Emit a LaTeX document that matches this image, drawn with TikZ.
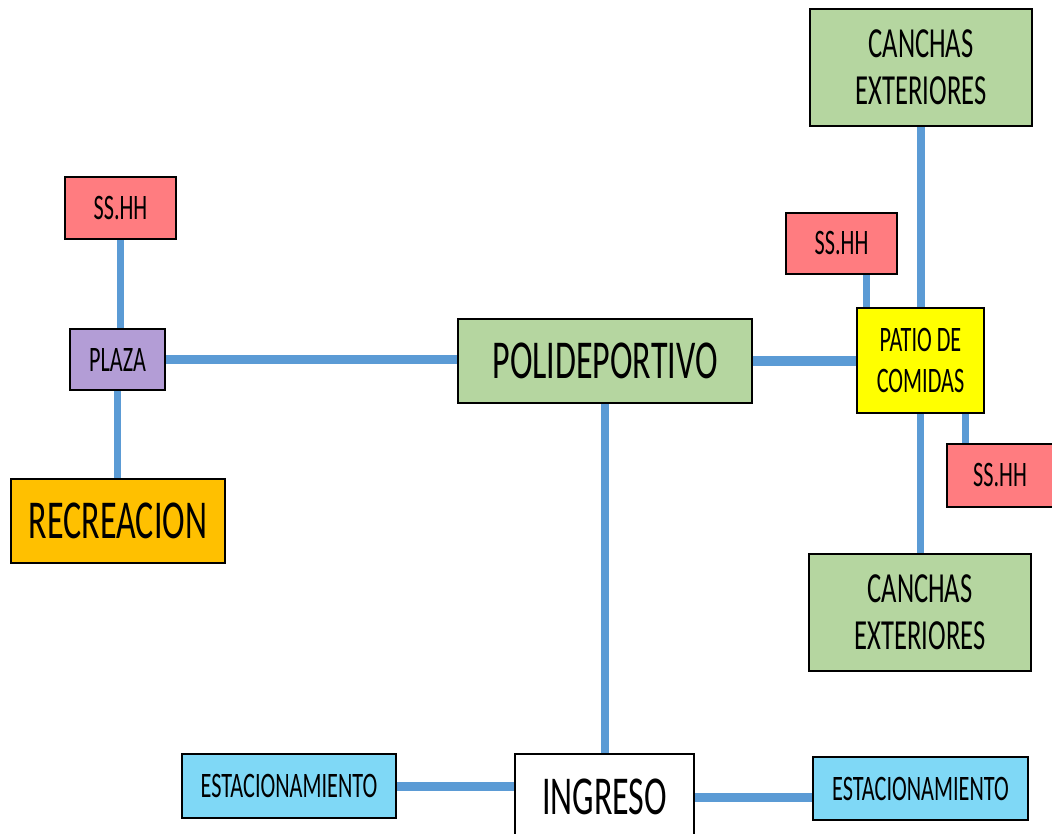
\documentclass[tikz,border=0pt]{standalone}
\usepackage{fontspec}
\setmainfont{Carlito}[FakeStretch=0.62]
\usepackage{tikz}
\usetikzlibrary{positioning,calc,backgrounds}
\definecolor{cGrnF}{HTML}{B5D6A0}
\definecolor{cRedF}{HTML}{FF7C80}
\definecolor{cPurF}{HTML}{B39DD6}
\definecolor{cOrgF}{HTML}{FFC000}
\definecolor{cYelF}{HTML}{FFFF00}
\definecolor{cCyaF}{HTML}{7FD8F6}
\definecolor{cLink}{HTML}{5B9BD5}

\begin{document}
\begin{tikzpicture}[x=0.025cm,y=-0.025cm,
  bx/.style={draw=black,line width=1.1pt,align=center,inner sep=2pt,text=black},
  sm/.style={font=\fontsize{25.5}{29}\selectfont},
  md/.style={font=\fontsize{30.5}{33.5}\selectfont},
  lg/.style={font=\fontsize{39}{44}\selectfont},
  lnk/.style={draw=cLink,line width=5pt},
  lnkb/.style={draw=cLink,line width=6.4pt},
  lnkw/.style={draw=cLink,line width=7pt}]

  \useasboundingbox (0,0) rectangle (1052,834);

  % left group
  \node[bx,sm,fill=cRedF,minimum width=2.775cm,minimum height=1.55cm] (shL) at (120.5,208) {SS.HH};
  \node[bx,sm,fill=cPurF,minimum width=2.375cm,minimum height=1.525cm] (plaza) at (117.5,359.5) {PLAZA};
  \node[bx,lg,fill=cOrgF,minimum width=5.35cm,minimum height=2.1cm] (rec) at (118,521) {RECREACION};

  % centre
  \node[bx,lg,fill=cGrnF,minimum width=7.35cm,minimum height=2.1cm] (poli) at (605,361) {POLIDEPORTIVO};

  % right group
  \node[bx,md,fill=cGrnF,minimum width=5.55cm,minimum height=2.925cm] (canN) at (921,67.5) {CANCHAS\\EXTERIORES};
  \node[bx,sm,fill=cRedF,minimum width=2.775cm,minimum height=1.525cm] (shN) at (841.5,243.5) {SS.HH};
  \node[bx,sm,fill=cYelF,minimum width=3.175cm,minimum height=2.625cm] (patio) at (920.5,360.5) {PATIO DE\\COMIDAS};
  \node[bx,sm,fill=cRedF,minimum width=2.65cm,minimum height=1.575cm] (shS) at (1000,475.5) {SS.HH};
  \node[bx,md,fill=cGrnF,minimum width=5.55cm,minimum height=2.925cm] (canS) at (920,612.5) {CANCHAS\\EXTERIORES};

  % bottom row
  \node[bx,sm,fill=cCyaF,minimum width=5.35cm,minimum height=1.6cm] (estL) at (289,786) {ESTACIONAMIENTO};
  \node[bx,lg,fill=white,minimum width=4.475cm,minimum height=2.15cm] (ing) at (604.5,797) {INGRESO};
  \node[bx,sm,fill=cCyaF,minimum width=5.375cm,minimum height=1.575cm] (estR) at (920.5,788.5) {ESTACIONAMIENTO};

  \begin{scope}[on background layer]
    \draw[lnk] (shL.south) -- (shL.south |- plaza.north);
    \draw[lnk] (plaza.south) -- (plaza.south |- rec.north);
    \draw[lnkw] (plaza.east) -- (plaza.east -| poli.west);
    \draw[lnkw] (poli.east) -- (poli.east -| patio.west);
    \draw[lnk] (poli.south) -- (poli.south |- ing.north);
    \draw[lnk] (canN.south) -- (canN.south |- patio.north);
    \draw[lnk] ([xshift=-0.775cm]shN.south east) -- ([xshift=-0.775cm]shN.south east |- patio.north);
    \draw[lnk] ([xshift=-0.475cm]patio.south east) -- ([xshift=-0.475cm]patio.south east |- shS.north);
    \draw[lnk] (patio.south) -- (patio.south |- canS.north);
    \draw[lnkb] (estL.east) -- (estL.east -| ing.west);
    \draw[lnkb] (ing.east) -- (ing.east -| estR.west);
  \end{scope}
\end{tikzpicture}
\end{document}
